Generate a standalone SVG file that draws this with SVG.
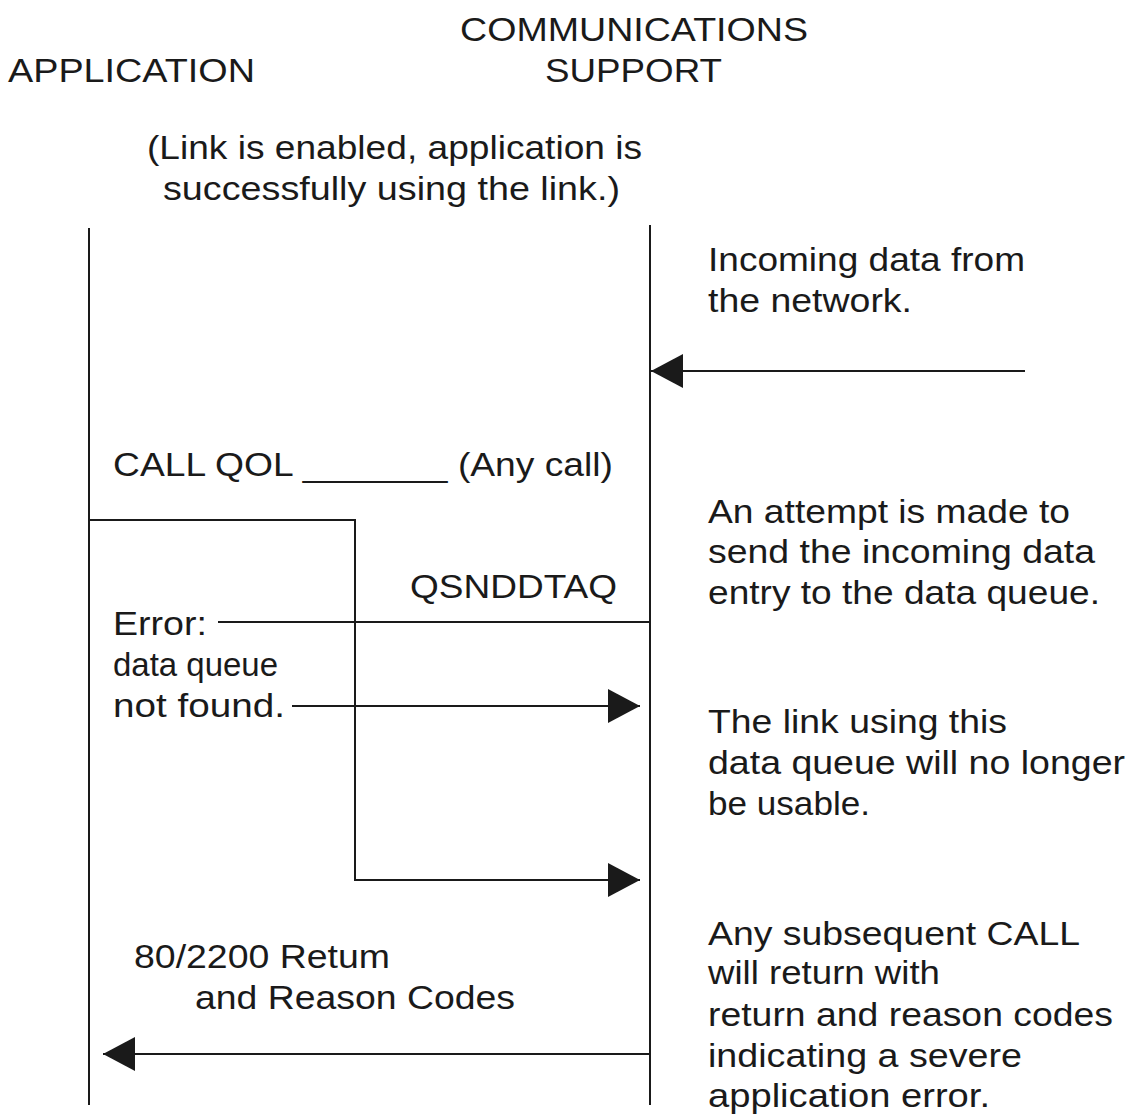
<svg xmlns="http://www.w3.org/2000/svg" width="1129" height="1117" viewBox="0 0 1129 1117">
<defs>
<style>
.t{font-family:"Liberation Sans",Arial,sans-serif;font-size:33px;fill:#1a1a1a}
.l{stroke:#1a1a1a;stroke-width:2;fill:none}
</style>
<marker id="ah" markerUnits="userSpaceOnUse" markerWidth="32" markerHeight="34" refX="32" refY="17" orient="auto" viewBox="0 0 32 34">
<path d="M0,0 L32,17 L0,34 z" fill="#1a1a1a"/>
</marker>
</defs>
<rect width="1129" height="1117" fill="#ffffff"/>
<g id="header">
<text class="t" x="460" y="41" textLength="348" lengthAdjust="spacingAndGlyphs">COMMUNICATIONS</text>
<text class="t" x="545" y="82" textLength="177" lengthAdjust="spacingAndGlyphs">SUPPORT</text>
<text class="t" x="8" y="82" textLength="247" lengthAdjust="spacingAndGlyphs">APPLICATION</text>
<text class="t" x="147" y="159" textLength="495" lengthAdjust="spacingAndGlyphs">(Link is enabled, application is</text>
<text class="t" x="163" y="200" textLength="457" lengthAdjust="spacingAndGlyphs">successfully using the link.)</text>
</g>
<g id="application">
<line class="l" x1="89" y1="228" x2="89" y2="1105"/>
</g>
<g id="communications-support">
<line class="l" x1="650" y1="225" x2="650" y2="1105"/>
</g>
<g id="connectors">
<line class="l" x1="1025" y1="371" x2="651" y2="371" marker-end="url(#ah)"/>
<polyline class="l" points="89,520 355,520 355,880 640,880" marker-end="url(#ah)"/>
<line class="l" x1="218" y1="622" x2="650" y2="622"/>
<line class="l" x1="292" y1="706" x2="640" y2="706" marker-end="url(#ah)"/>
<line class="l" x1="650" y1="1054" x2="103" y2="1054" marker-end="url(#ah)"/>
</g>
<g id="labels">
<text class="t" x="708" y="271" textLength="317" lengthAdjust="spacingAndGlyphs">Incoming data from</text>
<text class="t" x="708" y="312" textLength="204" lengthAdjust="spacingAndGlyphs">the network.</text>
<text class="t" x="113" y="476" textLength="500" lengthAdjust="spacingAndGlyphs">CALL QOL _______ (Any call)</text>
<text class="t" x="708" y="523" textLength="362" lengthAdjust="spacingAndGlyphs">An attempt is made to</text>
<text class="t" x="708" y="563" textLength="387" lengthAdjust="spacingAndGlyphs">send the incoming data</text>
<text class="t" x="708" y="604" textLength="392" lengthAdjust="spacingAndGlyphs">entry to the data queue.</text>
<text class="t" x="410" y="598" textLength="207" lengthAdjust="spacingAndGlyphs">QSNDDTAQ</text>
<text class="t" x="113" y="635" textLength="94" lengthAdjust="spacingAndGlyphs">Error:</text>
<text class="t" x="113" y="676" textLength="165" lengthAdjust="spacingAndGlyphs">data queue</text>
<text class="t" x="113" y="717" textLength="172" lengthAdjust="spacingAndGlyphs">not found.</text>
<text class="t" x="708" y="733" textLength="299" lengthAdjust="spacingAndGlyphs">The link using this</text>
<text class="t" x="708" y="774" textLength="417" lengthAdjust="spacingAndGlyphs">data queue will no longer</text>
<text class="t" x="708" y="815" textLength="162" lengthAdjust="spacingAndGlyphs">be usable.</text>
<text class="t" x="708" y="945" textLength="372" lengthAdjust="spacingAndGlyphs">Any subsequent CALL</text>
<text class="t" x="708" y="984" textLength="232" lengthAdjust="spacingAndGlyphs">will return with</text>
<text class="t" x="708" y="1026" textLength="405" lengthAdjust="spacingAndGlyphs">return and reason codes</text>
<text class="t" x="708" y="1067" textLength="314" lengthAdjust="spacingAndGlyphs">indicating a severe</text>
<text class="t" x="708" y="1107" textLength="282" lengthAdjust="spacingAndGlyphs">application error.</text>
<text class="t" x="134" y="968" textLength="256" lengthAdjust="spacingAndGlyphs">80/2200 Retum</text>
<text class="t" x="195" y="1009" textLength="320" lengthAdjust="spacingAndGlyphs">and Reason Codes</text>
</g>
</svg>
